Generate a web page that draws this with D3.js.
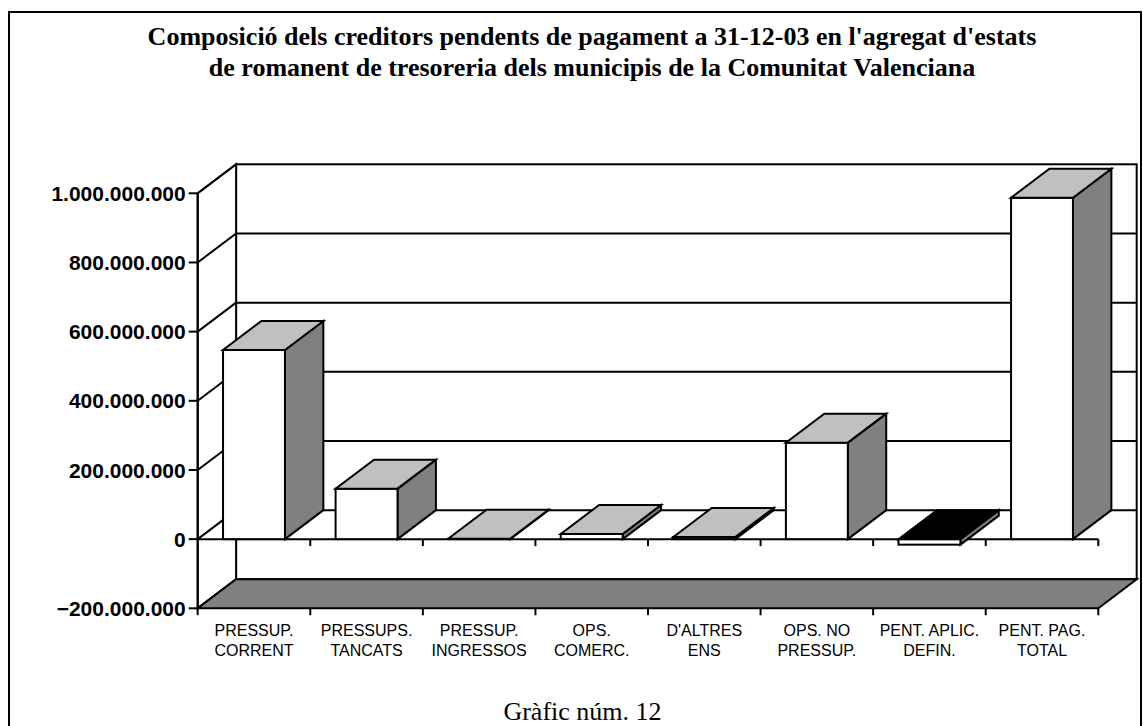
<!DOCTYPE html>
<html lang="ca">
<head>
<meta charset="UTF-8">
<title>Gràfic núm. 12</title>
<style>
  * { margin: 0; box-sizing: border-box; }
  body { width: 1143px; height: 726px; background: #fff; overflow: hidden; }
  svg { display: block; }
</style>
</head>
<body>
<svg id="chart" width="1143" height="726"></svg>

<script src="https://d3js.org/d3.v7.min.js"></script>
<script>
  // data
  const categories = [
    ["PRESSUP.", "CORRENT"],
    ["PRESSUPS.", "TANCATS"],
    ["PRESSUP.", "INGRESSOS"],
    ["OPS.", "COMERC."],
    ["D'ALTRES", "ENS"],
    ["OPS. NO", "PRESSUP."],
    ["PENT. APLIC.", "DEFIN."],
    ["PENT. PAG.", "TOTAL"]
  ];
  const values = [547e6, 146e6, 1e6, 15e6, 6e6, 279e6, -16e6, 987e6];
  const yTicks = [-200e6, 0, 200e6, 400e6, 600e6, 800e6, 1000e6];
  const titleLines = [
    "Composició dels creditors pendents de pagament a 31-12-03 en l'agregat d'estats",
    "de romanent de tresoreria dels municipis de la Comunitat Valenciana"
  ];
  const caption = "Gràfic núm. 12";
  // data end

  const svg = d3.select("#chart");

  // plot geometry (front plane + depth offset)
  const plotLeft = 197.7, plotRight = 1098.3;
  const plotTop = 193.3, plotBottom = 608.3;
  const dx = 38.4, dy = 29;

  const keys = categories.map(c => c.join(" "));
  const x = d3.scaleBand().domain(keys).range([plotLeft, plotRight]);
  const xBar = d3.scaleBand().domain(keys).range([plotLeft, plotRight])
    .paddingInner(0.45).paddingOuter(0.225);
  const y = d3.scaleLinear().domain([-200e6, 1000e6]).range([plotBottom, plotTop]);

  const locale = d3.formatLocale({ decimal: ",", thousands: ".", grouping: [3], currency: ["", "€"] });
  const fmt = locale.format(",d");

  const line = d3.line();

  // outer frame
  svg.append("rect")
    .attr("x", 9).attr("y", 12).attr("width", 1132).attr("height", 760)
    .attr("fill", "none").attr("stroke", "#000").attr("stroke-width", 2);

  // title
  svg.append("g").selectAll("text")
    .data(titleLines)
    .join("text")
    .attr("x", 592)
    .attr("y", (d, i) => 45 + i * 31)
    .attr("text-anchor", "middle")
    .attr("font-family", "Liberation Serif, Times New Roman, serif")
    .attr("font-weight", "bold")
    .attr("font-size", 26)
    .text(d => d);

  const walls = svg.append("g")
    .attr("stroke", "#000").attr("stroke-width", 2).attr("stroke-linejoin", "miter");

  // back wall
  walls.append("rect")
    .attr("x", plotLeft + dx).attr("y", plotTop - dy)
    .attr("width", plotRight - plotLeft).attr("height", plotBottom - plotTop)
    .attr("fill", "#fff");

  // back gridlines
  walls.append("g").selectAll("line")
    .data(yTicks.slice(1, -1))
    .join("line")
    .attr("x1", plotLeft + dx).attr("x2", plotRight + dx)
    .attr("y1", d => y(d) - dy).attr("y2", d => y(d) - dy);

  // side wall
  walls.append("path")
    .attr("fill", "#fff")
    .attr("d", line([[plotLeft, plotTop], [plotLeft + dx, plotTop - dy], [plotLeft + dx, plotBottom - dy], [plotLeft, plotBottom]]) + "Z");

  walls.append("g").selectAll("line")
    .data(yTicks)
    .join("line")
    .attr("x1", plotLeft).attr("x2", plotLeft + dx)
    .attr("y1", d => y(d)).attr("y2", d => y(d) - dy);

  // floor
  walls.append("path")
    .attr("fill", "#808080")
    .attr("d", line([[plotLeft, plotBottom], [plotRight, plotBottom], [plotRight + dx, plotBottom - dy], [plotLeft + dx, plotBottom - dy]]) + "Z");

  // zero line with ticks
  walls.append("line")
    .attr("x1", plotLeft).attr("x2", plotRight)
    .attr("y1", y(0)).attr("y2", y(0));

  const bounds = keys.map(k => x(k)).concat([plotRight]);
  walls.append("g").selectAll("line")
    .data(bounds.slice(1))
    .join("line")
    .attr("x1", d => d).attr("x2", d => d)
    .attr("y1", y(0)).attr("y2", y(0) + 7);

  // bars
  const bars = svg.append("g")
    .attr("stroke", "#000").attr("stroke-width", 2).attr("stroke-linejoin", "miter")
    .selectAll("g")
    .data(values.map((v, i) => ({ key: keys[i], v })))
    .join("g");

  bars.each(function (d) {
    const g = d3.select(this);
    const x0 = xBar(d.key), w = xBar.bandwidth();
    const yT = y(Math.max(d.v, 0)), yB = y(Math.min(d.v, 0));
    // side
    g.append("path")
      .attr("fill", "#808080")
      .attr("d", line([[x0 + w, yT], [x0 + w + dx, yT - dy], [x0 + w + dx, yB - dy], [x0 + w, yB]]) + "Z");
    // front
    g.append("rect")
      .attr("x", x0).attr("y", yT).attr("width", w).attr("height", Math.max(yB - yT, 0))
      .attr("fill", "#fff");
    // top
    g.append("path")
      .attr("fill", d.v < 0 ? "#000" : "#c0c0c0")
      .attr("d", line([[x0, yT], [x0 + w, yT], [x0 + w + dx, yT - dy], [x0 + dx, yT - dy]]) + "Z");
  });

  // y axis
  const axis = svg.append("g").attr("stroke", "#000").attr("stroke-width", 2);
  axis.append("line")
    .attr("x1", plotLeft).attr("x2", plotLeft)
    .attr("y1", plotTop).attr("y2", plotBottom + 7);
  axis.append("g").selectAll("line")
    .data(yTicks)
    .join("line")
    .attr("x1", plotLeft - 9).attr("x2", plotLeft)
    .attr("y1", d => y(d)).attr("y2", d => y(d));

  svg.append("g").selectAll("text")
    .data(yTicks)
    .join("text")
    .attr("x", plotLeft - 12)
    .attr("y", d => y(d))
    .attr("dy", "0.36em")
    .attr("text-anchor", "end")
    .attr("font-family", "Liberation Sans, Arial, sans-serif")
    .attr("font-weight", "bold")
    .attr("font-size", 21)
    .text(d => fmt(d));

  // bottom ticks below floor
  axis.append("g").selectAll("line")
    .data(bounds.slice(1))
    .join("line")
    .attr("x1", d => d).attr("x2", d => d)
    .attr("y1", plotBottom).attr("y2", plotBottom + 7);

  // category labels
  const labels = svg.append("g")
    .attr("font-family", "Liberation Sans, Arial, sans-serif")
    .attr("font-size", 16)
    .attr("text-anchor", "middle")
    .selectAll("text")
    .data(categories)
    .join("text")
    .attr("x", (d, i) => x(keys[i]) + x.bandwidth() / 2)
    .attr("y", 635.5);
  labels.selectAll("tspan")
    .data(d => d)
    .join("tspan")
    .attr("x", function () { return d3.select(this.parentNode).attr("x"); })
    .attr("dy", (d, i) => i === 0 ? 0 : 20.5)
    .text(d => d);

  // caption
  svg.append("text")
    .attr("x", 582.5).attr("y", 720)
    .attr("text-anchor", "middle")
    .attr("font-family", "Liberation Serif, Times New Roman, serif")
    .attr("font-size", 26)
    .text(caption);
</script>
</body>
</html>
